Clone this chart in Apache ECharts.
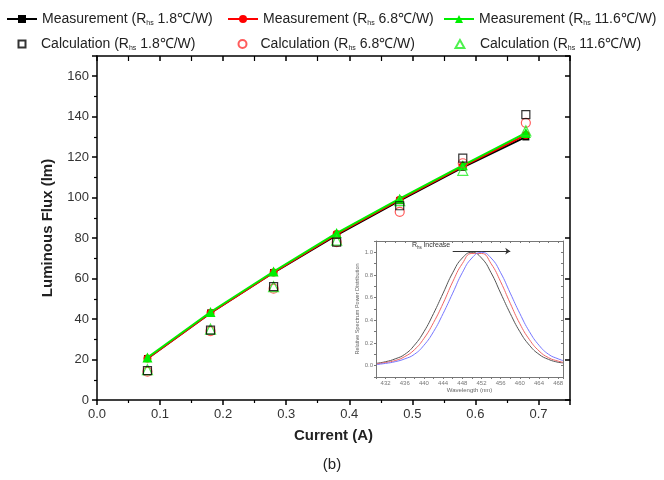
<!DOCTYPE html>
<html>
<head>
<meta charset="utf-8">
<script src="https://cdn.jsdelivr.net/npm/echarts@6/dist/echarts.min.js"></script>
<style>
  html, body { margin: 0; padding: 0; background: #fff; }
  #chart { width: 664px; height: 480px; }
</style>
</head>
<body>
<div id="chart"></div>
<script>
// main plot data: current (A) vs luminous flux (lm)
const current = [0.08, 0.18, 0.28, 0.38, 0.48, 0.58, 0.68];
const meas18 = [20.5, 43, 63, 81.5, 98.5, 115, 130];
const meas68 = [20.5, 43, 63, 82, 99, 115.5, 131];
const meas116 = [21, 43.5, 63.5, 82.5, 99.5, 116, 132];
const calc18 = [14.5, 34.5, 56, 78, 96, 119.5, 141];
const calc68 = [14, 34, 55, 78, 93, 117, 137];
const calc116 = [15, 35, 56, 79, 98.5, 113.5, 133];

// inset: relative spectrum power distribution
const wavelength = [430, 432, 434, 436, 438, 440, 442, 444, 446, 448, 450, 452, 454, 456, 458, 460, 462, 464, 466, 468, 469];
const spdBlack = [0.02, 0.035, 0.06, 0.1, 0.18, 0.3, 0.46, 0.64, 0.82, 0.95, 1.0, 0.95, 0.82, 0.64, 0.46, 0.3, 0.18, 0.1, 0.055, 0.03, 0.025];
const spdRed = [0.015, 0.028, 0.045, 0.08, 0.14, 0.24, 0.38, 0.55, 0.74, 0.9, 0.99, 0.99, 0.9, 0.74, 0.55, 0.37, 0.23, 0.13, 0.07, 0.04, 0.03];
const spdBlue = [0.01, 0.02, 0.035, 0.06, 0.1, 0.18, 0.3, 0.46, 0.64, 0.82, 0.95, 1.0, 0.95, 0.82, 0.64, 0.46, 0.3, 0.18, 0.1, 0.06, 0.045];

const legendLabels = {
  m18: 'Measurement (R{s|hs} 1.8℃/W)',
  m68: 'Measurement (R{s|hs} 6.8℃/W)',
  m116: 'Measurement (R{s|hs} 11.6℃/W)',
  c18: 'Calculation (R{s|hs} 1.8℃/W)',
  c68: 'Calculation (R{s|hs} 6.8℃/W)',
  c116: 'Calculation (R{s|hs} 11.6℃/W)'
};

const FONT = 'Liberation Sans, Arial, sans-serif';

function pairs(xs, ys) {
  return xs.map((x, i) => [x, ys[i]]);
}

function legendAt(name, left, top, iconW, iconH, icon) {
  const lg = {
    data: [name],
    left: left,
    top: top,
    padding: 0,
    itemWidth: iconW,
    itemHeight: iconH,
    itemGap: 0,
    selectedMode: false,
    formatter: n => legendLabels[n],
    textStyle: {
      fontFamily: FONT,
      fontSize: 14,
      color: '#222',
      rich: {
        s: { fontSize: 7, fontFamily: FONT, color: '#222', padding: [9, 0, 0, 0] }
      }
    }
  };
  if (icon) lg.icon = icon;
  return lg;
}

const chart = echarts.init(document.getElementById('chart'));

const axisBlack = { onZero: false, lineStyle: { color: '#000', width: 1.5 } };
const insetLine = { onZero: false, lineStyle: { color: '#777', width: 1 } };

const option = {
  animation: false,
  backgroundColor: '#fff',
  title: {
    text: '(b)',
    left: 'center',
    top: 452,
    textStyle: { fontFamily: FONT, fontSize: 15, fontWeight: 'normal', color: '#222' }
  },
  legend: [
    legendAt('m18', 6, 12, 30, 10),
    legendAt('m68', 227, 12, 30, 10),
    legendAt('m116', 443, 12, 30, 10),
    legendAt('c18', 16, 37, 28, 7, 'path://M0,0H10V10H0Z'),
    legendAt('c68', 236, 37, 26, 8),
    legendAt('c116', 453, 37, 30, 8, 'path://M5,0L10,9H0Z')
  ],
  grid: [
    { left: 97, right: 94, top: 56, bottom: 80 },
    { left: 376, top: 241, width: 187, height: 136, show: true, backgroundColor: '#fff', borderWidth: 0, z: 5 }
  ],
  xAxis: [
    {
      gridIndex: 0, type: 'value', min: 0, max: 0.75, interval: 0.1,
      name: 'Current (A)', nameLocation: 'middle', nameGap: 28,
      nameTextStyle: { fontFamily: FONT, fontSize: 15, fontWeight: 'bold', color: '#222' },
      axisLine: axisBlack,
      axisTick: { show: true, inside: false, length: 5, lineStyle: { color: '#000', width: 1.5 } },
      minorTick: { show: true, splitNumber: 2, length: 3, lineStyle: { color: '#000', width: 1.2 } },
      axisLabel: { fontFamily: FONT, fontSize: 13, color: '#333', margin: 8, showMaxLabel: false, formatter: v => v.toFixed(1) },
      splitLine: { show: false }
    },
    {
      gridIndex: 0, type: 'value', position: 'top', min: 0, max: 0.75, interval: 0.1,
      axisLine: axisBlack,
      axisTick: { show: true, inside: true, length: 5, lineStyle: { color: '#000', width: 1.5 } },
      minorTick: { show: true, splitNumber: 2, length: 5, lineStyle: { color: '#000', width: 1.2 } },
      axisLabel: { show: false },
      splitLine: { show: false }
    },
    {
      gridIndex: 1, type: 'value', min: 430, max: 469, interval: 2, z: 7,
      name: 'Wavelength (nm)', nameLocation: 'middle', nameGap: 10,
      nameTextStyle: { fontFamily: FONT, fontSize: 6, color: '#666' },
      axisLine: insetLine,
      axisTick: { show: true, inside: false, length: 2, lineStyle: { color: '#777', width: 1 } },
      axisLabel: {
        fontFamily: FONT, fontSize: 6, color: '#777', margin: 3, interval: 0,
        formatter: v => ((Math.round(v) - 432) % 4 === 0 && v <= 468 ? String(Math.round(v)) : '')
      },
      splitLine: { show: false }
    },
    {
      gridIndex: 1, type: 'value', position: 'top', min: 430, max: 469, interval: 2, z: 7,
      axisLine: insetLine,
      axisTick: { show: true, inside: true, length: 2, lineStyle: { color: '#777', width: 1 } },
      axisLabel: { show: false },
      splitLine: { show: false }
    }
  ],
  yAxis: [
    {
      gridIndex: 0, type: 'value', min: 0, max: 170, interval: 20,
      name: 'Luminous Flux (lm)', nameLocation: 'middle', nameGap: 42,
      nameTextStyle: { fontFamily: FONT, fontSize: 15, fontWeight: 'bold', color: '#222' },
      axisLine: axisBlack,
      axisTick: { show: true, inside: false, length: 5, lineStyle: { color: '#000', width: 1.5 } },
      minorTick: { show: true, splitNumber: 2, length: 3, lineStyle: { color: '#000', width: 1.2 } },
      axisLabel: { fontFamily: FONT, fontSize: 13, color: '#333', margin: 8, showMaxLabel: false },
      splitLine: { show: false }
    },
    {
      gridIndex: 0, type: 'value', position: 'right', min: 0, max: 170, interval: 20,
      axisLine: axisBlack,
      axisTick: { show: true, inside: true, length: 5, lineStyle: { color: '#000', width: 1.5 } },
      minorTick: { show: false },
      axisLabel: { show: false },
      splitLine: { show: false }
    },
    {
      gridIndex: 1, type: 'value', min: -0.1, max: 1.1, interval: 0.1, z: 7,
      name: 'Relative Spectrum Power Distribution', nameLocation: 'middle', nameGap: 14,
      nameTextStyle: { fontFamily: FONT, fontSize: 5.5, color: '#666' },
      axisLine: insetLine,
      axisTick: { show: true, inside: false, length: 2, lineStyle: { color: '#777', width: 1 } },
      axisLabel: {
        fontFamily: FONT, fontSize: 6, color: '#777', margin: 3, interval: 0,
        formatter: v => {
          const r = Math.round(v * 10);
          return (r >= 0 && r <= 10 && r % 2 === 0) ? (r / 10).toFixed(1) : '';
        }
      },
      splitLine: { show: false }
    },
    {
      gridIndex: 1, type: 'value', position: 'right', min: -0.1, max: 1.1, interval: 0.1, z: 7,
      axisLine: insetLine,
      axisTick: { show: true, inside: true, length: 2, lineStyle: { color: '#777', width: 1 } },
      axisLabel: { show: false },
      splitLine: { show: false }
    }
  ],
  series: [
    {
      name: 'm18', type: 'line', xAxisIndex: 0, yAxisIndex: 0, data: pairs(current, meas18),
      symbol: 'rect', symbolSize: 7, z: 2,
      lineStyle: { color: '#000', width: 2 }, itemStyle: { color: '#000' }
    },
    {
      name: 'm68', type: 'line', xAxisIndex: 0, yAxisIndex: 0, data: pairs(current, meas68),
      symbol: 'circle', symbolSize: 8, z: 3,
      lineStyle: { color: '#ff0000', width: 2 }, itemStyle: { color: '#ff0000' }
    },
    {
      name: 'm116', type: 'line', xAxisIndex: 0, yAxisIndex: 0, data: pairs(current, meas116),
      symbol: 'triangle', symbolSize: 10, z: 4,
      lineStyle: { color: '#00ee00', width: 2 }, itemStyle: { color: '#00ee00' }
    },
    {
      name: 'c18', type: 'scatter', xAxisIndex: 0, yAxisIndex: 0, data: pairs(current, calc18),
      symbol: 'rect', symbolSize: 8, z: 6,
      itemStyle: { color: 'none', borderColor: '#000', borderWidth: 1.2 }
    },
    {
      name: 'c68', type: 'scatter', xAxisIndex: 0, yAxisIndex: 0, data: pairs(current, calc68),
      symbol: 'circle', symbolSize: 9, z: 5,
      itemStyle: { color: 'none', borderColor: '#ff3333', borderWidth: 1.2 }
    },
    {
      name: 'c116', type: 'scatter', xAxisIndex: 0, yAxisIndex: 0, data: pairs(current, calc116),
      symbol: 'triangle', symbolSize: 10, z: 5,
      itemStyle: { color: 'none', borderColor: '#22ee22', borderWidth: 1.2 }
    },
    {
      name: 'spdBlack', type: 'line', xAxisIndex: 2, yAxisIndex: 2, data: pairs(wavelength, spdBlack),
      smooth: true, showSymbol: false, z: 6,
      lineStyle: { color: '#555', width: 1 },
      markLine: {
        silent: true, symbol: ['none', 'arrow'], symbolSize: 5,
        lineStyle: { color: '#333', width: 1, type: 'solid' },
        label: { show: false },
        data: [[{ coord: [446, 1.01] }, { coord: [458, 1.01] }]]
      },
      markPoint: {
        silent: true, symbol: 'circle', symbolSize: 0,
        label: {
          show: true, position: 'inside', formatter: 'R{s|hs} increase',
          fontFamily: FONT, fontSize: 7, color: '#333',
          rich: { s: { fontSize: 4.5, fontFamily: FONT, color: '#333', padding: [5, 0, 0, 0] } }
        },
        data: [{ coord: [441.5, 1.06] }]
      }
    },
    {
      name: 'spdRed', type: 'line', xAxisIndex: 2, yAxisIndex: 2, data: pairs(wavelength, spdRed),
      smooth: true, showSymbol: false, z: 6,
      lineStyle: { color: '#f06666', width: 1 }
    },
    {
      name: 'spdBlue', type: 'line', xAxisIndex: 2, yAxisIndex: 2, data: pairs(wavelength, spdBlue),
      smooth: true, showSymbol: false, z: 6,
      lineStyle: { color: '#7777ff', width: 1 }
    }
  ]
};

chart.setOption(option);
</script>
</body>
</html>
